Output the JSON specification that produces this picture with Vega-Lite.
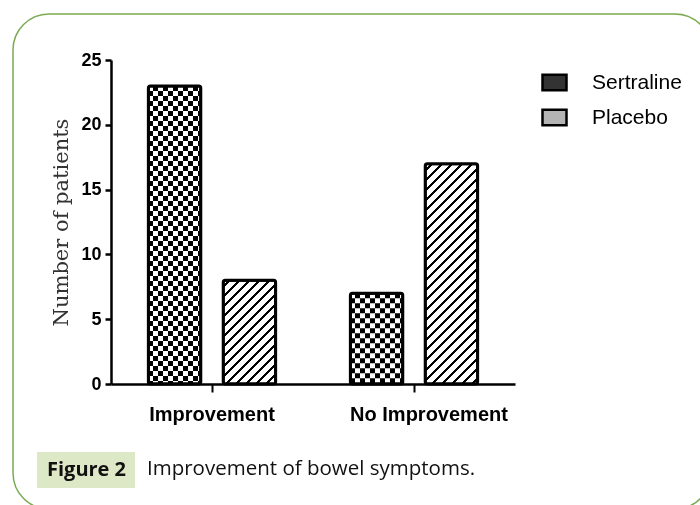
{
  "$schema": "https://vega.github.io/schema/vega-lite/v6.json",
  "width": 698,
  "height": 495,
  "autosize": {"type": "none"},
  "padding": {"left": 13, "top": 14, "right": -11, "bottom": -4},
  "background": "white",
  "config": {
    "view": {"stroke": "#7aab52", "strokeWidth": 1.5, "cornerRadius": 36},
    "axis": {"grid": false}
  },
  "title": {
    "text": "Improvement of bowel symptoms.",
    "orient": "bottom",
    "anchor": "start",
    "frame": "group",
    "dx": 134,
    "dy": -54,
    "font": "Open Sans",
    "fontSize": 20.5,
    "fontWeight": "normal",
    "color": "#111111"
  },
  "datasets": {
    "bars": [
      {"category": "Improvement", "group": "Sertraline", "value": 23},
      {"category": "Improvement", "group": "Placebo", "value": 8},
      {"category": "No Improvement", "group": "Sertraline", "value": 7},
      {"category": "No Improvement", "group": "Placebo", "value": 17}
    ],
    "caption": [{"fig": "Figure 2"}]
  },
  "layer": [
    {
      "data": {"name": "bars"},
      "mark": {"type": "bar", "cornerRadius": 2},
      "encoding": {
        "x": {"field": "category", "type": "nominal", "sort": ["Improvement", "No Improvement"],
          "scale": {"range": [98, 502], "paddingInner": 0.37, "paddingOuter": 0.185},
          "axis": {"offset": -125, "title": null, "labelAngle": 0, "domainColor": "black", "domainWidth": 2.5,
            "tickColor": "black", "tickWidth": 2, "tickSize": 8, "labelFont": "Liberation Sans", "labelFontSize": 20,
            "labelFontWeight": "bold", "labelColor": "black", "labelPadding": 12,
            "labelOffset": {"condition": {"test": "datum.value === 'No Improvement'", "value": 15}, "value": 0}}},
        "xOffset": {"field": "group", "type": "nominal", "sort": ["Sertraline", "Placebo"],
          "scale": {"paddingInner": 0.3, "paddingOuter": 0}},
        "y": {"field": "value", "type": "quantitative",
          "scale": {"domain": [0, 25], "range": [370, 46], "nice": false},
          "axis": {"offset": -98, "values": [0, 5, 10, 15, 20, 25], "domainColor": "black", "domainWidth": 2.5,
            "tickColor": "black", "tickWidth": 2.5, "tickSize": 6, "labelFont": "Liberation Sans", "labelFontSize": 18,
            "labelFontWeight": "bold", "labelColor": "black", "labelPadding": 4,
            "title": "Number of patients", "titleFont": "DejaVu Serif", "titleFontSize": 21,
            "titleFontWeight": "normal", "titleColor": "#333333", "titlePadding": 9}},
        "fill": {"field": "group", "type": "nominal",
          "scale": {"domain": ["Sertraline", "Placebo"], "range": ["#333333", "#b4b4b4"]},
          "legend": {"orient": "none", "legendX": 528, "legendY": 55, "title": null, "padding": 0,
            "symbolType": "M-1,-0.65H1V0.65H-1Z", "symbolSize": 576, "symbolStrokeColor": "black",
            "symbolStrokeWidth": 2.5, "labelFont": "Liberation Sans", "labelFontSize": 21, "labelColor": "black",
            "labelOffset": 24, "rowPadding": 8}}
      }
    },
    {
      "data": {"name": "bars"},
      "mark": {"type": "bar", "cornerRadius": 2},
      "encoding": {
        "x": {"field": "category", "type": "nominal", "sort": ["Improvement", "No Improvement"]},
        "xOffset": {"field": "group", "type": "nominal", "sort": ["Sertraline", "Placebo"]},
        "y": {"field": "value", "type": "quantitative"},
        "fill": {
          "condition": [
            {"test": "datum.group === 'Sertraline'", "value": {"gradient": "linear", "x1": 0, "y1": 0, "x2": 1, "y2": 0, "stops": [
              {"offset": 0, "color": "black"}, {"offset": 0.095, "color": "black"},
              {"offset": 0.095, "color": "white"}, {"offset": 0.191, "color": "white"},
              {"offset": 0.191, "color": "black"}, {"offset": 0.286, "color": "black"},
              {"offset": 0.286, "color": "white"}, {"offset": 0.382, "color": "white"},
              {"offset": 0.382, "color": "black"}, {"offset": 0.477, "color": "black"},
              {"offset": 0.477, "color": "white"}, {"offset": 0.573, "color": "white"},
              {"offset": 0.573, "color": "black"}, {"offset": 0.668, "color": "black"},
              {"offset": 0.668, "color": "white"}, {"offset": 0.763, "color": "white"},
              {"offset": 0.763, "color": "black"}, {"offset": 0.859, "color": "black"},
              {"offset": 0.859, "color": "white"}, {"offset": 0.954, "color": "white"},
              {"offset": 0.954, "color": "black"}, {"offset": 1, "color": "black"}]}},
            {"test": "datum.category === 'Improvement'", "value": {"gradient": "linear", "x1": 0, "y1": 0, "x2": 0.606, "y2": 1.199, "stops": [
              {"offset": 0, "color": "white"},
              {"offset": 0.030, "color": "white"}, {"offset": 0.030, "color": "black"}, {"offset": 0.048, "color": "black"}, {"offset": 0.048, "color": "white"},
              {"offset": 0.0941, "color": "white"}, {"offset": 0.0941, "color": "black"}, {"offset": 0.1121, "color": "black"}, {"offset": 0.1121, "color": "white"},
              {"offset": 0.1582, "color": "white"}, {"offset": 0.1582, "color": "black"}, {"offset": 0.1762, "color": "black"}, {"offset": 0.1762, "color": "white"},
              {"offset": 0.2223, "color": "white"}, {"offset": 0.2223, "color": "black"}, {"offset": 0.2403, "color": "black"}, {"offset": 0.2403, "color": "white"},
              {"offset": 0.2864, "color": "white"}, {"offset": 0.2864, "color": "black"}, {"offset": 0.3044, "color": "black"}, {"offset": 0.3044, "color": "white"},
              {"offset": 0.3505, "color": "white"}, {"offset": 0.3505, "color": "black"}, {"offset": 0.3685, "color": "black"}, {"offset": 0.3685, "color": "white"},
              {"offset": 0.4146, "color": "white"}, {"offset": 0.4146, "color": "black"}, {"offset": 0.4326, "color": "black"}, {"offset": 0.4326, "color": "white"},
              {"offset": 0.4787, "color": "white"}, {"offset": 0.4787, "color": "black"}, {"offset": 0.4967, "color": "black"}, {"offset": 0.4967, "color": "white"},
              {"offset": 0.5428, "color": "white"}, {"offset": 0.5428, "color": "black"}, {"offset": 0.5608, "color": "black"}, {"offset": 0.5608, "color": "white"},
              {"offset": 0.6069, "color": "white"}, {"offset": 0.6069, "color": "black"}, {"offset": 0.6249, "color": "black"}, {"offset": 0.6249, "color": "white"},
              {"offset": 0.6710, "color": "white"}, {"offset": 0.6710, "color": "black"}, {"offset": 0.6890, "color": "black"}, {"offset": 0.6890, "color": "white"},
              {"offset": 0.7351, "color": "white"}, {"offset": 0.7351, "color": "black"}, {"offset": 0.7531, "color": "black"}, {"offset": 0.7531, "color": "white"},
              {"offset": 0.7992, "color": "white"}, {"offset": 0.7992, "color": "black"}, {"offset": 0.8172, "color": "black"}, {"offset": 0.8172, "color": "white"},
              {"offset": 0.8633, "color": "white"}, {"offset": 0.8633, "color": "black"}, {"offset": 0.8813, "color": "black"}, {"offset": 0.8813, "color": "white"},
              {"offset": 0.9274, "color": "white"}, {"offset": 0.9274, "color": "black"}, {"offset": 0.9454, "color": "black"}, {"offset": 0.9454, "color": "white"},
              {"offset": 1, "color": "white"}]}}
          ],
          "value": {"gradient": "linear", "x1": 0, "y1": 0, "x2": 0.2787, "y2": 1.1716, "stops": [
            {"offset": 0, "color": "white"},
            {"offset": 0.0200, "color": "white"}, {"offset": 0.0200, "color": "black"}, {"offset": 0.0303, "color": "black"}, {"offset": 0.0303, "color": "white"},
            {"offset": 0.0567, "color": "white"}, {"offset": 0.0567, "color": "black"}, {"offset": 0.0670, "color": "black"}, {"offset": 0.0670, "color": "white"},
            {"offset": 0.0933, "color": "white"}, {"offset": 0.0933, "color": "black"}, {"offset": 0.1036, "color": "black"}, {"offset": 0.1036, "color": "white"},
            {"offset": 0.1300, "color": "white"}, {"offset": 0.1300, "color": "black"}, {"offset": 0.1403, "color": "black"}, {"offset": 0.1403, "color": "white"},
            {"offset": 0.1667, "color": "white"}, {"offset": 0.1667, "color": "black"}, {"offset": 0.1770, "color": "black"}, {"offset": 0.1770, "color": "white"},
            {"offset": 0.2034, "color": "white"}, {"offset": 0.2034, "color": "black"}, {"offset": 0.2136, "color": "black"}, {"offset": 0.2136, "color": "white"},
            {"offset": 0.2400, "color": "white"}, {"offset": 0.2400, "color": "black"}, {"offset": 0.2503, "color": "black"}, {"offset": 0.2503, "color": "white"},
            {"offset": 0.2767, "color": "white"}, {"offset": 0.2767, "color": "black"}, {"offset": 0.2870, "color": "black"}, {"offset": 0.2870, "color": "white"},
            {"offset": 0.3134, "color": "white"}, {"offset": 0.3134, "color": "black"}, {"offset": 0.3236, "color": "black"}, {"offset": 0.3236, "color": "white"},
            {"offset": 0.3500, "color": "white"}, {"offset": 0.3500, "color": "black"}, {"offset": 0.3603, "color": "black"}, {"offset": 0.3603, "color": "white"},
            {"offset": 0.3867, "color": "white"}, {"offset": 0.3867, "color": "black"}, {"offset": 0.3970, "color": "black"}, {"offset": 0.3970, "color": "white"},
            {"offset": 0.4234, "color": "white"}, {"offset": 0.4234, "color": "black"}, {"offset": 0.4336, "color": "black"}, {"offset": 0.4336, "color": "white"},
            {"offset": 0.4600, "color": "white"}, {"offset": 0.4600, "color": "black"}, {"offset": 0.4703, "color": "black"}, {"offset": 0.4703, "color": "white"},
            {"offset": 0.4967, "color": "white"}, {"offset": 0.4967, "color": "black"}, {"offset": 0.5070, "color": "black"}, {"offset": 0.5070, "color": "white"},
            {"offset": 0.5334, "color": "white"}, {"offset": 0.5334, "color": "black"}, {"offset": 0.5436, "color": "black"}, {"offset": 0.5436, "color": "white"},
            {"offset": 0.5701, "color": "white"}, {"offset": 0.5701, "color": "black"}, {"offset": 0.5803, "color": "black"}, {"offset": 0.5803, "color": "white"},
            {"offset": 0.6067, "color": "white"}, {"offset": 0.6067, "color": "black"}, {"offset": 0.6170, "color": "black"}, {"offset": 0.6170, "color": "white"},
            {"offset": 0.6434, "color": "white"}, {"offset": 0.6434, "color": "black"}, {"offset": 0.6537, "color": "black"}, {"offset": 0.6537, "color": "white"},
            {"offset": 0.6801, "color": "white"}, {"offset": 0.6801, "color": "black"}, {"offset": 0.6903, "color": "black"}, {"offset": 0.6903, "color": "white"},
            {"offset": 0.7167, "color": "white"}, {"offset": 0.7167, "color": "black"}, {"offset": 0.7270, "color": "black"}, {"offset": 0.7270, "color": "white"},
            {"offset": 0.7534, "color": "white"}, {"offset": 0.7534, "color": "black"}, {"offset": 0.7637, "color": "black"}, {"offset": 0.7637, "color": "white"},
            {"offset": 0.7901, "color": "white"}, {"offset": 0.7901, "color": "black"}, {"offset": 0.8003, "color": "black"}, {"offset": 0.8003, "color": "white"},
            {"offset": 0.8267, "color": "white"}, {"offset": 0.8267, "color": "black"}, {"offset": 0.8370, "color": "black"}, {"offset": 0.8370, "color": "white"},
            {"offset": 0.8634, "color": "white"}, {"offset": 0.8634, "color": "black"}, {"offset": 0.8737, "color": "black"}, {"offset": 0.8737, "color": "white"},
            {"offset": 0.9001, "color": "white"}, {"offset": 0.9001, "color": "black"}, {"offset": 0.9103, "color": "black"}, {"offset": 0.9103, "color": "white"},
            {"offset": 0.9367, "color": "white"}, {"offset": 0.9367, "color": "black"}, {"offset": 0.9470, "color": "black"}, {"offset": 0.9470, "color": "white"},
            {"offset": 0.9734, "color": "white"}, {"offset": 0.9734, "color": "black"}, {"offset": 0.9837, "color": "black"}, {"offset": 0.9837, "color": "white"},
            {"offset": 1, "color": "white"}]}
        }
      }
    },
    {
      "data": {"name": "bars"},
      "transform": [{"filter": "datum.group === 'Sertraline'"}],
      "mark": {"type": "rule", "stroke": "white", "strokeWidth": 52, "strokeDash": [5, 5], "strokeCap": "butt", "blend": "difference"},
      "encoding": {
        "x": {"field": "category", "type": "nominal", "sort": ["Improvement", "No Improvement"]},
        "xOffset": {"field": "group", "type": "nominal", "sort": ["Sertraline", "Placebo"]},
        "y": {"field": "value", "type": "quantitative"},
        "y2": {"datum": 0}
      }
    },
    {
      "data": {"name": "bars"},
      "mark": {"type": "bar", "cornerRadius": 2, "fill": "transparent", "stroke": "black", "strokeWidth": 3},
      "encoding": {
        "x": {"field": "category", "type": "nominal", "sort": ["Improvement", "No Improvement"]},
        "xOffset": {"field": "group", "type": "nominal", "sort": ["Sertraline", "Placebo"]},
        "y": {"field": "value", "type": "quantitative"}
      }
    },
    {
      "data": {"name": "caption"},
      "mark": {"type": "point", "opacity": 0},
      "encoding": {
        "shape": {"field": "fig", "type": "nominal",
          "legend": {"orient": "none", "legendX": 24, "legendY": 438, "title": null, "fillColor": "#dde9c6",
            "padding": 8, "symbolSize": 0, "symbolOpacity": 0, "symbolStrokeWidth": 0, "symbolOffset": 0,
            "labelOffset": -18, "labelFont": "Open Sans", "labelFontSize": 20, "labelFontWeight": "bold", "labelColor": "#111111"}}
      }
    }
  ]
}
